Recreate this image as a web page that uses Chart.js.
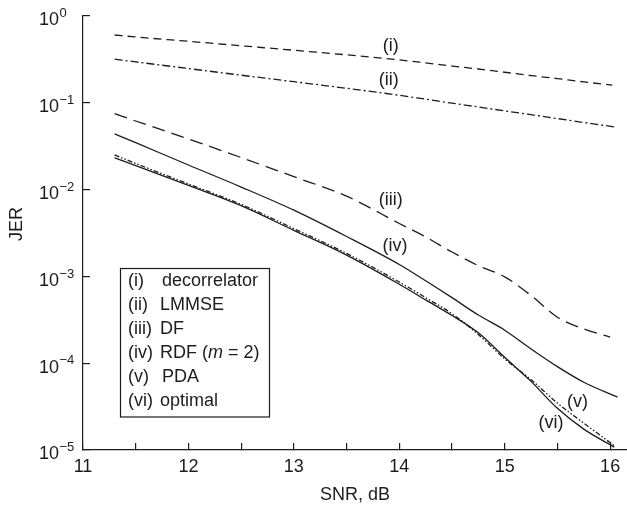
<!DOCTYPE html>
<html>
<head>
<meta charset="utf-8">
<title>JER vs SNR</title>
<script src="https://cdn.jsdelivr.net/npm/chart.js@4.4.1/dist/chart.umd.min.js"></script>
<style>
  html, body { margin: 0; padding: 0; background: #fff; overflow: hidden; }
  #jer-chart { display: block; }
</style>
</head>
<body>
<canvas id="jer-chart" width="627" height="506"></canvas>
<script>
// SNR grid in dB (shared), each curve gets its own last point
const snr = [11.3, 11.5, 12, 12.5, 13, 13.5, 14, 14.25, 14.5, 14.75, 15, 15.25, 15.5, 15.75];
const snrEnd = [16.02, 16.05, 16.0, 16.07, 16.04, 16.04];

// joint error rate
const jerDecorrelator = [0.604, 0.573, 0.511, 0.454, 0.403, 0.357, 0.312, 0.288, 0.265, 0.245, 0.225, 0.206, 0.19, 0.174, 0.16];
const jerLmmse = [0.318, 0.296, 0.248, 0.208, 0.175, 0.147, 0.122, 0.11, 0.099, 0.0895, 0.0807, 0.0729, 0.0658, 0.0593, 0.0526];
const jerDf = [0.075, 0.0617, 0.0383, 0.0234, 0.0141, 0.00841, 0.00407, 0.00285, 0.00191, 0.00133, 0.000989, 0.000603, 0.000339, 0.000248, 0.0002];
const jerRdf = [0.0439, 0.0347, 0.0192, 0.0107, 0.00579, 0.00288, 0.00137, 0.00089, 0.000569, 0.000359, 0.00024, 0.000146, 0.0000912, 0.0000603, 0.0000407];
const jerPda = [0.0251, 0.02, 0.0116, 0.00676, 0.00355, 0.00184, 0.000861, 0.000569, 0.000372, 0.000214, 0.000112, 0.0000646, 0.0000347, 0.0000204, 0.0000112];
const jerOptimal = [0.0232, 0.0189, 0.0112, 0.00653, 0.00339, 0.00176, 0.000813, 0.000537, 0.000355, 0.000224, 0.000117, 0.0000617, 0.0000302, 0.0000174, 0.0000108];

const curveTags = ['(i)', '(ii)', '(iii)', '(iv)', '(v)', '(vi)'];
const legendNames = ['decorrelator', 'LMMSE', 'DF', 'RDF (m = 2)', 'PDA', 'optimal'];

const snrTicks = [11, 11.5, 12, 12.5, 13, 13.5, 14, 14.5, 15, 15.5, 16];
const jerTicks = [1e-5, 1e-4, 1e-3, 1e-2, 1e-1, 1];

const ink = '#1c1c1c';
const fontFamily = '"Liberation Sans", Arial, Helvetica, sans-serif';

const series = [jerDecorrelator, jerLmmse, jerDf, jerRdf, jerPda, jerOptimal];
const dashes = [[8, 5], [8, 3, 2, 3], [13, 7], [], [5, 2, 1.5, 2, 1.5, 2], []];

// where the (i)..(vi) tags sit, in data units
const tagAt = [[13.92, 0.451], [13.90, 0.183], [13.92, 0.00759], [13.96, 0.00224], [15.69, 3.57e-5], [15.44, 2.05e-5]];

const annotate = {
    id: 'annotate',
    afterDraw(chart) {
        const { ctx, scales: { x, y } } = chart;
        ctx.save();
        ctx.fillStyle = ink;

        // decade labels 10^n
        jerTicks.forEach(v => {
            const py = y.getPixelForValue(v);
            const exp = Math.round(Math.log10(v));
            ctx.textAlign = 'left';
            ctx.textBaseline = 'alphabetic';
            ctx.font = `18px ${fontFamily}`;
            ctx.fillText('10', 39, py + 9.4);
            const w = ctx.measureText('10').width;
            ctx.font = `13px ${fontFamily}`;
            ctx.fillText(exp === 0 ? '0' : '\u2212' + (-exp), 39 + w + 0.5, py + 1.2);
        });

        // y title
        ctx.save();
        ctx.translate(17, 224);
        ctx.rotate(-Math.PI / 2);
        ctx.textAlign = 'center';
        ctx.textBaseline = 'middle';
        ctx.font = `18px ${fontFamily}`;
        ctx.fillText('JER', 0, 0);
        ctx.restore();

        // curve tags
        ctx.font = `18px ${fontFamily}`;
        ctx.textAlign = 'center';
        ctx.textBaseline = 'middle';
        curveTags.forEach((t, i) => {
            ctx.fillText(t, x.getPixelForValue(tagAt[i][0]), y.getPixelForValue(tagAt[i][1]));
        });

        // legend box
        ctx.strokeStyle = ink;
        ctx.lineWidth = 1.2;
        ctx.strokeRect(120.5, 268.5, 149, 148.5);
        ctx.textAlign = 'left';
        curveTags.forEach((t, i) => {
            const ty = 281 + i * 24;
            ctx.font = `18px ${fontFamily}`;
            ctx.fillText(t, 128, ty);
            const name = legendNames[i];
            if (name.includes('(m')) {
                const [pre, post] = name.split('m =');
                let px = 160;
                ctx.fillText(pre, px, ty);
                px += ctx.measureText(pre).width;
                ctx.font = `italic 18px ${fontFamily}`;
                ctx.fillText('m', px, ty);
                px += ctx.measureText('m').width;
                ctx.font = `18px ${fontFamily}`;
                ctx.fillText(' =' + post, px, ty);
            } else {
                ctx.fillText(name, i === 0 || i === 4 ? 162 : 160, ty);
            }
        });
        ctx.restore();
    }
};

document.addEventListener('DOMContentLoaded', () => {
    Chart.defaults.font.family = fontFamily;
    Chart.defaults.font.size = 18;
    Chart.defaults.color = ink;

    const datasets = series.map((vals, k) => ({
        label: curveTags[k] + ' ' + legendNames[k],
        data: vals.map((v, i) => ({ x: i < snr.length ? snr[i] : snrEnd[k], y: v })),
        borderColor: ink,
        borderWidth: 1.3,
        borderDash: dashes[k],
        pointRadius: 0,
        fill: false,
        cubicInterpolationMode: 'monotone'
    }));

    new Chart(document.getElementById('jer-chart'), {
        type: 'line',
        data: { datasets },
        options: {
            responsive: false,
            animation: false,
            devicePixelRatio: 1,
            layout: { padding: { top: 16, right: 0, bottom: 0, left: 0 } },
            plugins: { legend: { display: false }, tooltip: { enabled: false } },
            scales: {
                x: {
                    type: 'linear',
                    min: 11,
                    max: 16.16,
                    afterBuildTicks: s => { s.ticks = snrTicks.map(v => ({ value: v })); },
                    afterFit: s => { s.height = 56; s.paddingLeft = 0; s.paddingRight = 0; },
                    ticks: {
                        autoSkip: false,
                        maxRotation: 0,
                        padding: 13,
                        color: ink,
                        callback: v => (Number.isInteger(v) ? String(v) : '')
                    },
                    grid: { drawOnChartArea: false, drawTicks: true, tickLength: -7, color: ink, lineWidth: 1.2 },
                    border: { display: true, color: ink, width: 1.2 },
                    title: { display: true, text: 'SNR, dB', color: ink, padding: { top: 0, bottom: 0 } }
                },
                y: {
                    type: 'logarithmic',
                    min: 1e-5,
                    max: 1,
                    afterBuildTicks: s => { s.ticks = jerTicks.map(v => ({ value: v })); },
                    afterFit: s => { s.width = 83; s.paddingTop = 0; s.paddingBottom = 0; },
                    ticks: { autoSkip: false, callback: () => '' },
                    grid: { drawOnChartArea: false, drawTicks: true, tickLength: -7, color: ink, lineWidth: 1.2 },
                    border: { display: true, color: ink, width: 1.2 }
                }
            }
        },
        plugins: [annotate]
    });
});
</script>
</body>
</html>
